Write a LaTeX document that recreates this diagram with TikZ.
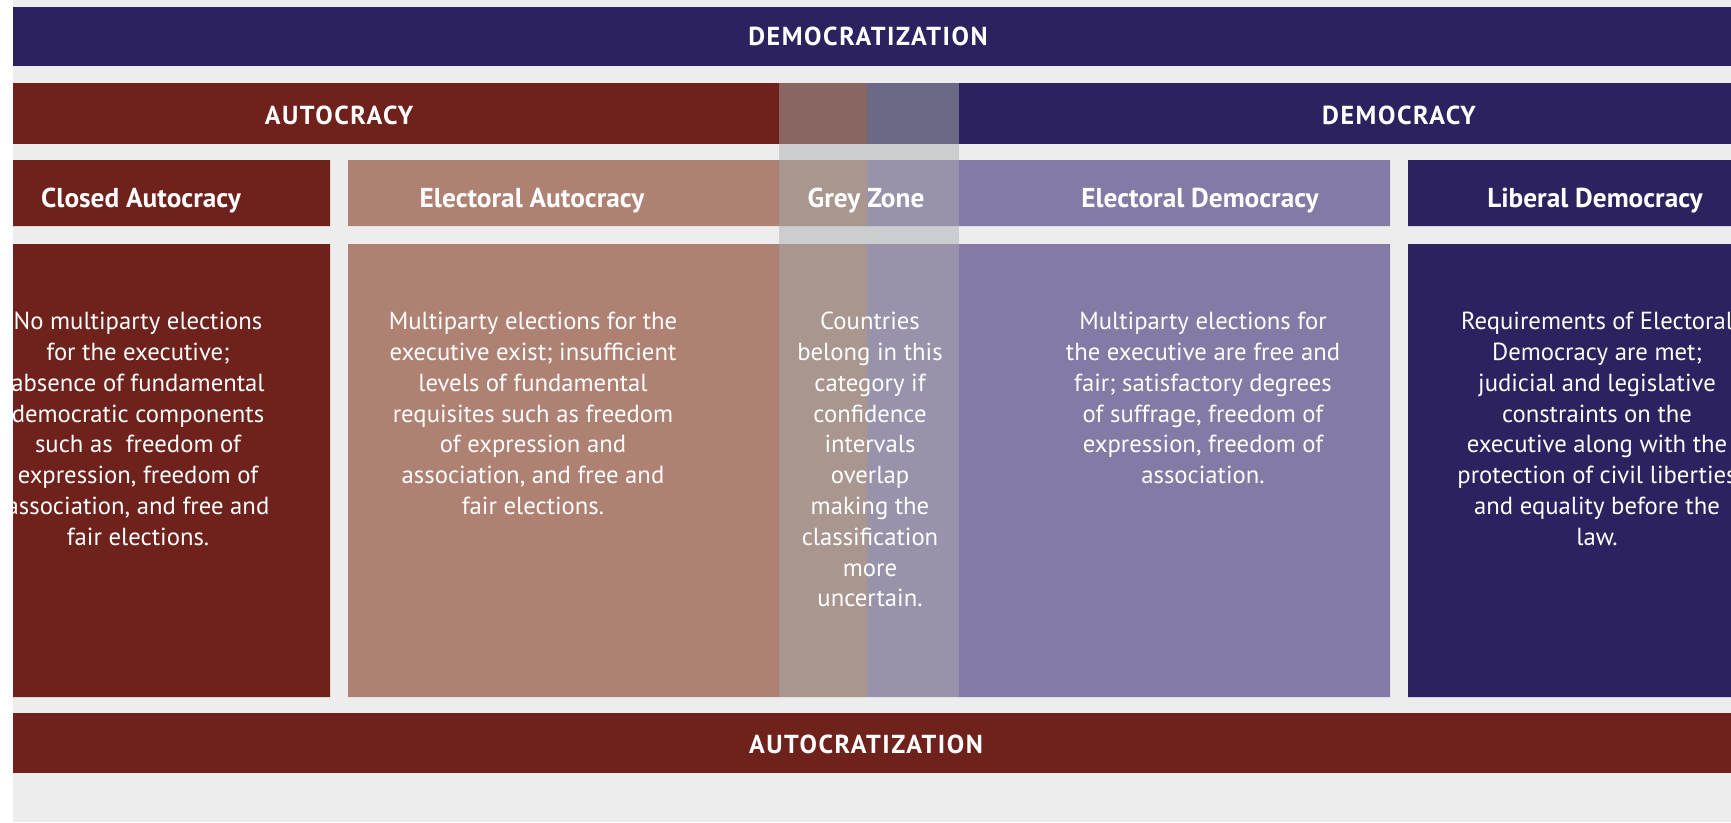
\documentclass[tikz,border=0pt]{standalone}
\usepackage{fontspec}
\setmainfont{PT Sans}
\newfontfamily\capsfont{PT Sans}[LetterSpace=6]
\usepackage{tikz}
\usetikzlibrary{positioning}
\definecolor{bgc}{HTML}{EDEDED}
\definecolor{navy}{HTML}{2D2260}
\definecolor{wine}{HTML}{6F221C}
\definecolor{rose}{HTML}{AF8173}
\definecolor{lilac}{HTML}{857AA5}
\definecolor{wineg}{HTML}{8A6663}
\definecolor{navyg}{HTML}{6C6987}
\definecolor{roseg}{HTML}{A9968F}
\definecolor{lilacg}{HTML}{9893AB}
\definecolor{gapg}{HTML}{CCCDCF}
\tikzstyle{every node}=[inner sep=0pt,text=white]
\tikzstyle{title}=[font=\capsfont\bfseries\fontsize{26}{30}\selectfont,anchor=base]
\tikzstyle{head}=[font=\bfseries\fontsize{27.3}{32}\selectfont,anchor=base]
\tikzstyle{body}=[font=\fontsize{24.7}{30.8}\selectfont,align=center,anchor=north]

\begin{document}
\begin{tikzpicture}[x=1pt,y=-1pt]
\useasboundingbox (0,0) rectangle (1731,822);
\fill[white] (0,0) rectangle (1731,822);
\begin{scope}
\clip (13,0) rectangle (1731,822);
\fill[bgc] (13,0) rectangle (1731,822);
\fill[navy] (13,7) rectangle (1731,66);
\fill[wine] (13,83) rectangle (779,144);
\fill[wineg] (779,83) rectangle (867,144);
\fill[navyg] (867,83) rectangle (959,144);
\fill[navy] (959,83) rectangle (1731,144);
\fill[gapg] (779,144) rectangle (959,244);
\fill[wine] (13,160) rectangle (330,226) (13,244) rectangle (330,697);
\fill[rose] (348,160) rectangle (779,226) (348,244) rectangle (779,697);
\fill[roseg] (779,160) rectangle (867,226) (779,244) rectangle (867,697);
\fill[lilacg] (867,160) rectangle (959,226) (867,244) rectangle (959,697);
\fill[lilac] (959,160) rectangle (1390,226) (959,244) rectangle (1390,697);
\fill[navy] (1408,160) rectangle (1731,226) (1408,244) rectangle (1731,697);
\fill[wine] (13,713) rectangle (1731,773);

\node[title] (demz) at (868,45) {DEMOCRATIZATION};
\node[title] (aut) at (339,124) {AUTOCRACY};
\node[title] (dem) at (1399,124) {DEMOCRACY};
\node[title] (autz) at (866,753) {AUTOCRATIZATION};

\node[head] (closed) at (141,207) {Closed Autocracy};
\node[head] (elaut) at (532,207) {Electoral Autocracy};
\node[head] (grey) at (866,207) {Grey Zone};
\node[head] (eldem) at (1200,207) {Electoral Democracy};
\node[head] (libdem) at (1595,207) {Liberal Democracy};

\node[body] (closedtxt) at (138,312) {No multiparty elections\\for the executive;\\absence of fundamental\\democratic components\\such as~ freedom of\\expression, freedom of\\association, and free and\\fair elections.};
\node[body] (elauttxt) at (533,312) {Multiparty elections for the\\executive exist; insufficient\\levels of fundamental\\requisites such as freedom\\of expression and\\association, and free and\\fair elections.};
\node[body] (greytxt) at (870,312) {Countries\\belong in this\\category if\\confidence\\intervals\\overlap\\making the\\classification\\more\\uncertain.};
\node[body] (eldemtxt) at (1203,312) {Multiparty elections for\\the executive are free and\\fair; satisfactory degrees\\of suffrage, freedom of\\expression, freedom of\\association.};
\node[body] (libdemtxt) at (1597,312) {Requirements of Electoral\\Democracy are met;\\judicial and legislative\\constraints on the\\executive along with the\\protection of civil liberties\\and equality before the\\law.};
\end{scope}
\end{tikzpicture}
\end{document}
